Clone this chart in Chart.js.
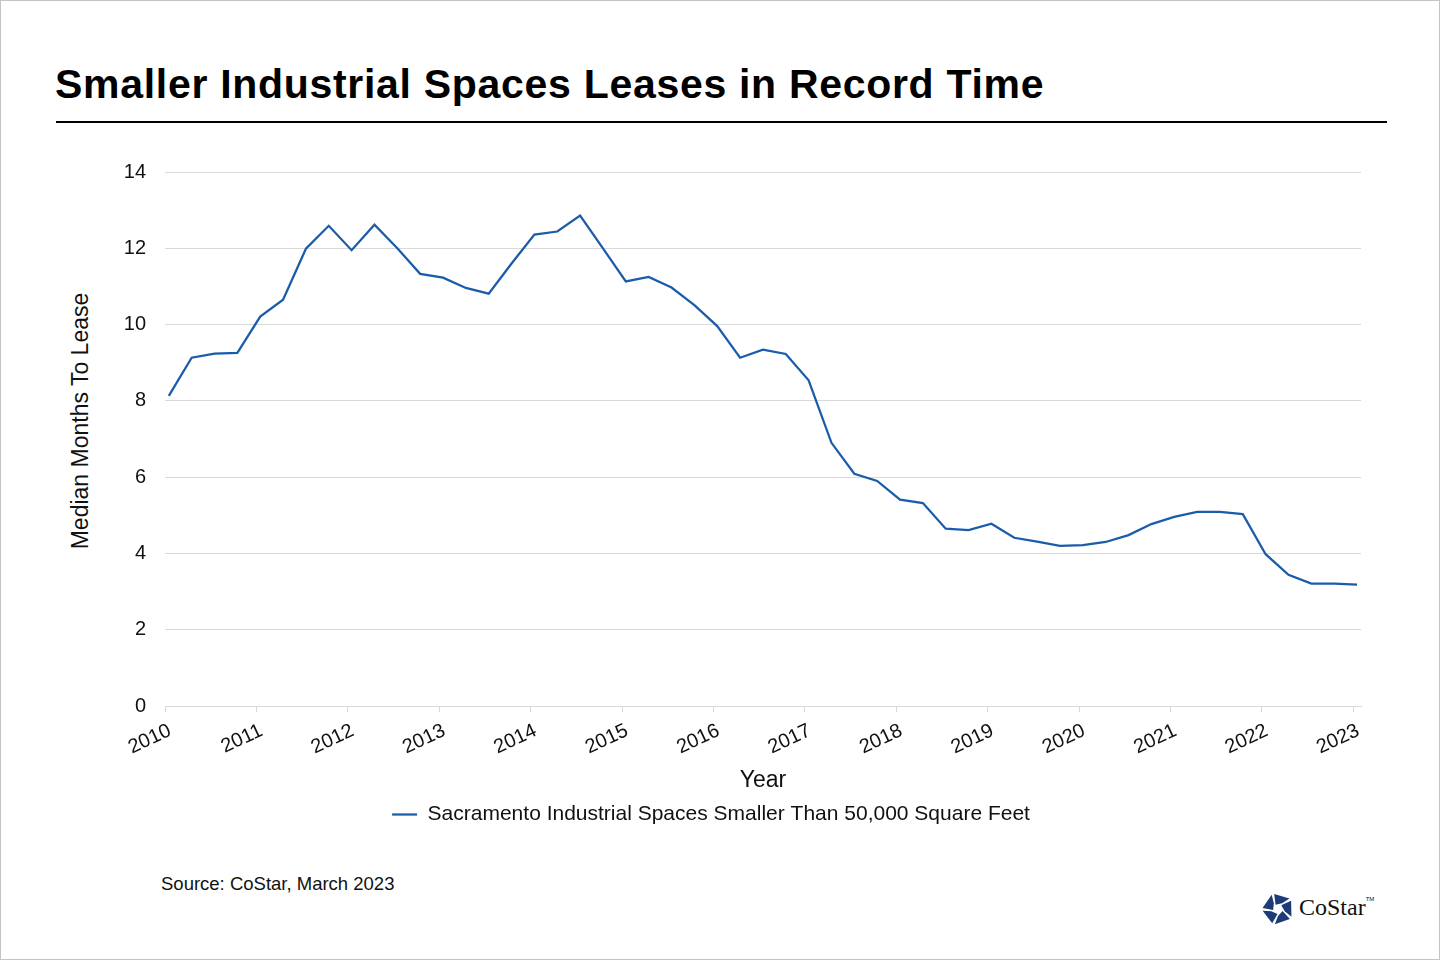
<!DOCTYPE html>
<html>
<head>
<meta charset="utf-8">
<script src="https://cdn.jsdelivr.net/npm/chart.js@4.4.1/dist/chart.umd.min.js"></script>
<style>
  html, body { margin: 0; padding: 0; background: #fff; }
  #page { position: relative; width: 1440px; height: 960px; box-sizing: border-box; border: 1px solid #c4c4c4; overflow: hidden; font-family: 'Liberation Sans', Arial, sans-serif; color: #111; }
  #title { position: absolute; left: 54px; top: 60px; font-size: 41px; font-weight: bold; letter-spacing: 0.7px; color: #000; white-space: nowrap; }
  #rule { position: absolute; left: 55px; top: 120px; width: 1331px; height: 2px; background: #000; }
  #ytitle { position: absolute; left: 79px; top: 420px; transform: translate(-50%, -50%) rotate(-90deg); font-size: 23px; white-space: nowrap; }
  #source { position: absolute; left: 160px; top: 872px; font-size: 18.5px; white-space: nowrap; }
  #chart { position: absolute; left: 0; top: 130px; }
  #logo { position: absolute; left: 1259px; top: 890px; }
  #brand { position: absolute; left: 1298px; top: 893px; font-family: 'Liberation Serif', 'DejaVu Serif', serif; font-size: 24px; color: #111; white-space: nowrap; }
  #brand sup { font-family: 'Liberation Sans', Arial, sans-serif; font-size: 6px; vertical-align: 14px; }
</style>
</head>
<body>
<div id="page">
  <div id="title">Smaller Industrial Spaces Leases in Record Time</div>
  <div id="rule"></div>
  <div id="ytitle">Median Months To Lease</div>
  <canvas id="chart" width="1440" height="704"></canvas>
  <div id="source">Source: CoStar, March 2023</div>
  <svg id="logo" width="36" height="36" viewBox="-18 -18 36 36">
    <defs>
      <polygon id="piece" points="-2.5,-4.3 -3.8,-15 11.5,-10.4 4.1,-5.7"/>
    </defs>
    <g fill="#1d3b78">
      <use href="#piece"/>
      <use href="#piece" transform="rotate(72)"/>
      <use href="#piece" transform="rotate(144)"/>
      <use href="#piece" transform="rotate(216)"/>
      <use href="#piece" transform="rotate(288)"/>
    </g>
  </svg>
  <div id="brand">CoStar<sup>TM</sup></div>
</div>
<script>
// quarterly median months to lease, Sacramento industrial < 50,000 sf
var quarters = [
  '2010 Q1', '2010 Q2', '2010 Q3', '2010 Q4',
  '2011 Q1', '2011 Q2', '2011 Q3', '2011 Q4',
  '2012 Q1', '2012 Q2', '2012 Q3', '2012 Q4',
  '2013 Q1', '2013 Q2', '2013 Q3', '2013 Q4',
  '2014 Q1', '2014 Q2', '2014 Q3', '2014 Q4',
  '2015 Q1', '2015 Q2', '2015 Q3', '2015 Q4',
  '2016 Q1', '2016 Q2', '2016 Q3', '2016 Q4',
  '2017 Q1', '2017 Q2', '2017 Q3', '2017 Q4',
  '2018 Q1', '2018 Q2', '2018 Q3', '2018 Q4',
  '2019 Q1', '2019 Q2', '2019 Q3', '2019 Q4',
  '2020 Q1', '2020 Q2', '2020 Q3', '2020 Q4',
  '2021 Q1', '2021 Q2', '2021 Q3', '2021 Q4',
  '2022 Q1', '2022 Q2', '2022 Q3', '2022 Q4',
  '2023 Q1'
];
var monthsToLease = [
  8.13, 9.13, 9.24, 9.26,
  10.21, 10.65, 11.99, 12.59,
  11.95, 12.62, 12.00, 11.33,
  11.23, 10.96, 10.81, 11.60,
  12.36, 12.44, 12.86, 12.00,
  11.13, 11.25, 10.97, 10.51,
  9.96, 9.13, 9.34, 9.23,
  8.54, 6.90, 6.09, 5.90,
  5.41, 5.32, 4.65, 4.61,
  4.78, 4.41, 4.31, 4.20,
  4.22, 4.30, 4.48, 4.77,
  4.96, 5.09, 5.09, 5.03,
  3.98, 3.44, 3.21, 3.21,
  3.18
];
var yearTicks = [2010, 2011, 2012, 2013, 2014, 2015, 2016, 2017, 2018, 2019, 2020, 2021, 2022, 2023];
var yTicks = [0, 2, 4, 6, 8, 10, 12, 14];
var seriesName = 'Sacramento Industrial Spaces Smaller Than 50,000 Square Feet';

var lineColor = '#1b5caa';
var gridColor = '#d9d9d9';

// place each quarter at the middle of its first month on a year axis
function quarterPos(label) {
  var parts = label.split(' Q');
  var month = (parseInt(parts[1], 10) - 1) * 3 + 1;
  return parseInt(parts[0], 10) + (month - 0.5) / 12;
}

var points = quarters.map(function (q, i) {
  return { x: quarterPos(q), y: monthsToLease[i] };
});

Chart.defaults.font.family = "'Liberation Sans', Arial, sans-serif";
Chart.defaults.color = '#111';

var chart = new Chart(document.getElementById('chart').getContext('2d'), {
  type: 'line',
  data: {
    datasets: [{
      label: seriesName,
      data: points,
      borderColor: lineColor,
      backgroundColor: lineColor,
      borderWidth: 2.25,
      pointRadius: 0,
      tension: 0,
      fill: false
    }]
  },
  options: {
    responsive: false,
    animation: false,
    layout: { padding: { top: 41, left: 60, right: 80, bottom: 0 } },
    plugins: {
      legend: {
        position: 'bottom',
        labels: {
          usePointStyle: true,
          pointStyle: 'line',
          pointStyleWidth: 25,
          padding: 10,
          font: { size: 21 },
          color: '#111'
        }
      },
      tooltip: { enabled: false }
    },
    scales: {
      x: {
        type: 'linear',
        min: yearTicks[0],
        max: 2023.085,
        afterBuildTicks: function (s) {
          s.ticks = yearTicks.map(function (v) { return { value: v }; });
        },
        afterFit: function (s) { s.height = 88; },
        grid: { drawOnChartArea: false, drawTicks: true, tickLength: 6, color: gridColor },
        border: { display: true, color: gridColor, width: 1 },
        ticks: {
          minRotation: 25,
          maxRotation: 25,
          padding: 7,
          labelOffset: 5,
          font: { size: 20 },
          color: '#111',
          callback: function (v) { return String(v); }
        },
        title: {
          display: true,
          text: 'Year',
          font: { size: 23 },
          color: '#111',
          padding: { top: 0, bottom: 0 }
        }
      },
      y: {
        min: yTicks[0],
        max: yTicks[yTicks.length - 1],
        afterBuildTicks: function (s) {
          s.ticks = yTicks.map(function (v) { return { value: v }; });
        },
        afterFit: function (s) { s.width = 104; },
        grid: { color: gridColor, drawTicks: false },
        border: { display: false },
        ticks: { padding: 19, font: { size: 20 }, color: '#111' }
      }
    }
  }
});
</script>
</body>
</html>
